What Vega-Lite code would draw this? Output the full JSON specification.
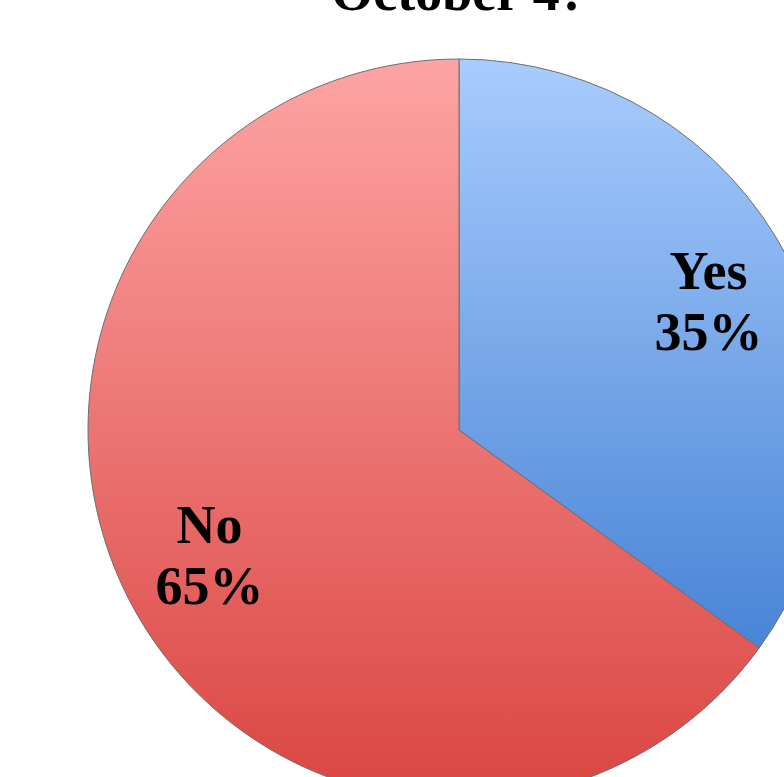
{
  "$schema": "https://vega.github.io/schema/vega-lite/v6.json",
  "autosize": "none",
  "width": 918,
  "height": 860,
  "padding": {"left": 0, "top": 0, "right": 0, "bottom": 0},
  "background": "white",
  "title": {
    "text": "October 4?",
    "orient": "top",
    "anchor": "middle",
    "offset": 0,
    "dy": 64,
    "baseline": "alphabetic",
    "font": "Liberation Serif",
    "fontSize": 54,
    "fontWeight": "bold",
    "color": "black"
  },
  "data": {
    "values": [
      {"answer": "Yes", "pct": 35, "idx": 1, "label": "Yes\n35%"},
      {"answer": "No", "pct": 65, "idx": 2, "label": "No\n65%"}
    ]
  },
  "encoding": {
    "theta": {"field": "pct", "type": "quantitative", "stack": true},
    "order": {"field": "idx", "type": "quantitative"}
  },
  "layer": [
    {
      "mark": {"type": "arc", "radius": 371, "stroke": "#6e6e6e", "strokeWidth": 1},
      "encoding": {
        "fill": {
          "condition": {
            "test": "datum.answer === 'Yes'",
            "value": {
              "gradient": "linear", "x1": 0, "y1": 0, "x2": 0, "y2": 1,
              "stops": [
                {"offset": 0, "color": "#a8ccfd"},
                {"offset": 1, "color": "#4984d6"}
              ]
            }
          },
          "value": {
            "gradient": "linear", "x1": 0, "y1": 0, "x2": 0, "y2": 1,
            "stops": [
              {"offset": 0, "color": "#fda4a4"},
              {"offset": 1, "color": "#da4541"}
            ]
          }
        }
      }
    },
    {
      "mark": {
        "type": "text",
        "radius": 280,
        "dy": -30,
        "lineBreak": "\n",
        "lineHeight": 61,
        "baseline": "middle",
        "align": "center",
        "font": "Liberation Serif",
        "fontSize": 54,
        "fontWeight": "bold",
        "color": "black"
      },
      "encoding": {
        "text": {"field": "label"}
      }
    }
  ]
}
